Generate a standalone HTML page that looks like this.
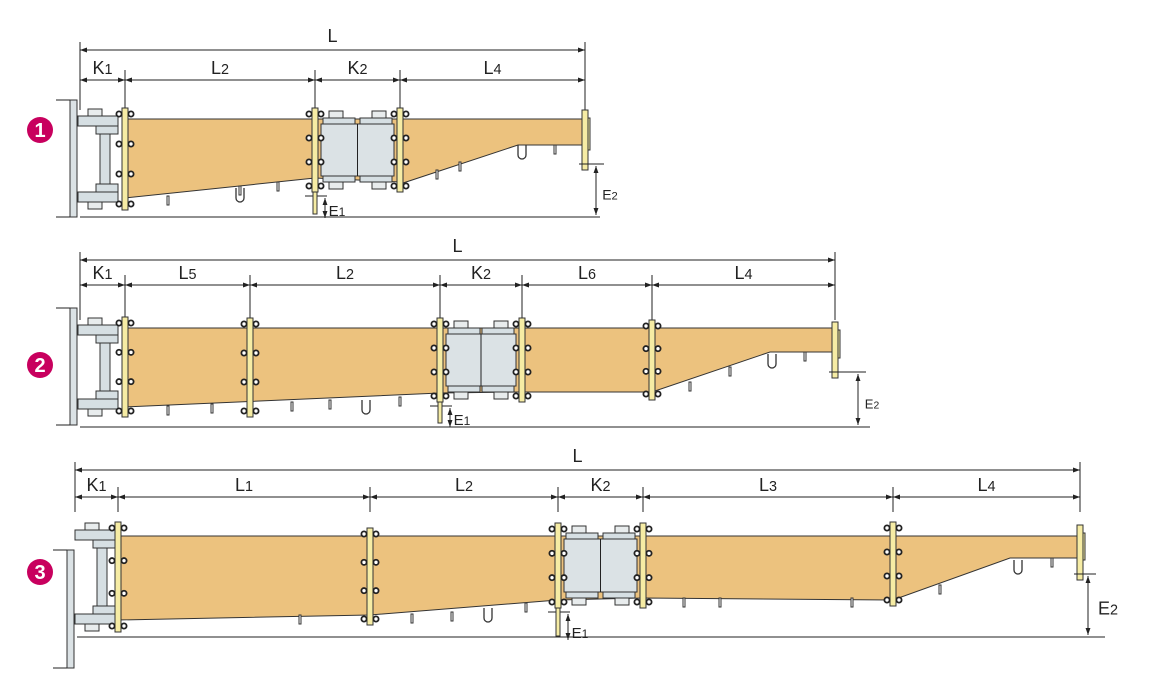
<!DOCTYPE html>
<html><head><meta charset="utf-8"><style>
body{margin:0;background:#fff;width:1150px;height:700px;overflow:hidden}
svg{display:block}
text{font-family:"Liberation Sans",sans-serif;fill:#222}
</style></head><body>
<svg id="s" width="1150" height="700" xmlns="http://www.w3.org/2000/svg">
<defs><marker id="a" viewBox="0 0 10 10" refX="10" refY="5" markerWidth="7" markerHeight="7" orient="auto-start-reverse"><path d="M0,1.5L10,5L0,8.5z" fill="#222"/></marker></defs>
</svg>
<script>
var s=document.getElementById('s');var h='';
function ln(x1,y1,x2,y2,w,c,m){h+='<line x1="'+x1+'" y1="'+y1+'" x2="'+x2+'" y2="'+y2+'" stroke="'+(c||'#222')+'" stroke-width="'+(w||1)+'"'+(m?' marker-start="url(#a)" marker-end="url(#a)"':'')+'/>';}
function rc(x,y,w,hh,f){h+='<rect x="'+x+'" y="'+y+'" width="'+w+'" height="'+hh+'" fill="'+f+'" stroke="#333" stroke-width="1"/>';}
function tx(x,y,t,sz,sub){h+='<text x="'+x+'" y="'+y+'" font-size="'+sz+'" text-anchor="middle">'+t+'<tspan font-size="'+(sz*0.8)+'">'+sub+'</tspan></text>';}
function flange(x,y1,y2){rc(x-3,y1,6,y2-y1,'#f6eca4');var n=4;for(var i=0;i<n;i++){var yy=y1+6+i*(y2-y1-12)/(n-1);h+='<circle cx="'+(x-6)+'" cy="'+yy+'" r="2.6" fill="#fff" stroke="#222" stroke-width="1.8"/><circle cx="'+(x+6)+'" cy="'+yy+'" r="2.6" fill="#fff" stroke="#222" stroke-width="1.8"/>';}}
function row(R){
 var Ly=R.Ly;ln(R.t[0],R.Ly-8,R.t[0],R.top,1);ln(R.t[0],Ly,R.t[R.t.length-1],Ly,1,'#222',1);
 tx((R.t[0]+R.t[R.t.length-1])/2,Ly-8,'L',18,'');
 for(var i=0;i<R.t.length;i++)ln(R.t[i],R.sy-10,R.t[i],R.top+2,1);
 for(var i=0;i<R.t.length-1;i++){ln(R.t[i],R.sy,R.t[i+1],R.sy,1,'#222',1);tx((R.t[i]+R.t[i+1])/2,R.sy-6,R.lb[i][0],18,R.lb[i][1]);}
 ln(R.t[R.t.length-1],Ly-8,R.t[R.t.length-1],R.sy,1);
 ln(R.wx+12,R.by,R.bx,R.by,1);
 h+='<polygon points="'+R.poly+'" fill="#ecc27e" stroke="#333" stroke-width="1"/>';
 R.hg.forEach(function(p){rc(p[0]-1,p[1],2,9,'#fff');});
 R.u.forEach(function(p){h+='<path d="M'+(p[0]-4)+','+p[1]+'v10a4,4 0 0 0 8,0v-10" fill="none" stroke="#333" stroke-width="1.3"/>';});
 var wx=R.wx,bt=R.bt,bb=R.bb;
 rc(wx+2,R.w1,7,R.w2-R.w1,'#dbe2e5');ln(wx-12,R.w1,wx+2,R.w1,1);ln(wx-12,R.w2,wx+2,R.w2,1);
 rc(wx+10,bt+8,40,10,'#d6dfe3');rc(wx+10,bb-18,40,10,'#d6dfe3');
 rc(wx+28,bt+18,22,8,'#d6dfe3');rc(wx+28,bb-26,22,8,'#d6dfe3');rc(wx+32,bt+26,10,bb-bt-52,'#d6dfe3');
 rc(wx+20,bt+1,14,7,'#e8eced');rc(wx+20,bb-8,14,7,'#e8eced');
 flange(R.t[1],bt,bb);
 R.fl.forEach(function(f){flange(f[0],f[1],f[2]);});
 var a=R.tr[0],b=R.tr[1],ty=R.ty,tb=R.tb;
 rc(a+6,ty+12,b-a-12,tb-ty-24,'#dbe2e5');ln((a+b)/2,ty+12,(a+b)/2,tb-12,1);
 rc(a+8,ty+6,32,6,'#d6dfe3');rc(b-40,ty+6,32,6,'#d6dfe3');rc(a+8,tb-12,32,6,'#d6dfe3');rc(b-40,tb-12,32,6,'#d6dfe3');
 rc(a+14,ty-1,14,7,'#e8eced');rc(b-28,ty-1,14,7,'#e8eced');rc(a+14,tb-6,14,7,'#e8eced');rc(b-28,tb-6,14,7,'#e8eced');
 flange(a,ty-4,tb+4);flange(b,ty-4,tb+4);
 ln(a-10,tb+8,a+12,tb+8,1);rc(a-2,tb+4,4,R.e1-(tb+4),'#f6eca4');ln(a+10,tb+10,a+10,R.e1+4,1,'#222',1);
 tx(a+22,R.e1+2,'E',15,'1');
 var ex=R.t[R.t.length-1];rc(ex,R.ey1+8,5,R.ey2-R.ey1-28,'#f6eca4');rc(ex-3,R.ey1,6,R.ey2-R.ey1,'#f6eca4');
 ln(ex-6,R.ey2-6,R.e2x+8,R.ey2-6,1);ln(R.e2x,R.ey2-4,R.e2x,R.by-2,1,'#222',1);
 tx(R.e2x+(R.e2s>14?20:14),(R.ey2+R.by)/2+6,'E',R.e2s,'2');
 h+='<circle cx="'+R.nx+'" cy="'+R.ny+'" r="13" fill="#c8005e"/><text x="'+R.nx+'" y="'+(R.ny+7)+'" font-size="20" font-weight="bold" text-anchor="middle" style="fill:#fff">'+R.n+'</text>';
}
row({n:1,nx:40,ny:130,top:108,Ly:50,sy:80,t:[80,125,315,400,585],lb:[['K','1'],['L','2'],['K','2'],['L','4']],
 by:217,bx:600,poly:'125,119 585,119 585,145 518,145 400,184 400,182 315,178 125,198',
 hg:[[168,196],[240,186],[278,182],[437,170],[460,162],[555,145]],u:[[522,145],[240,188]],
 wx:68,w1:100,w2:217,bt:108,bb:210,fl:[],tr:[315,400],ty:112,tb:188,e1:214,ey1:110,ey2:170,e2x:596,e2s:14});
row({n:2,nx:40,ny:365,top:318,Ly:260,sy:285,t:[80,125,250,440,522,652,835],lb:[['K','1'],['L','5'],['L','2'],['K','2'],['L','6'],['L','4']],
 by:427,bx:870,poly:'125,328 835,328 835,352 770,352 652,392 522,392 440,393 125,407',
 hg:[[168,406],[212,404],[292,402],[330,400],[400,397],[690,382],[730,367],[805,352]],u:[[366,400],[772,354]],
 wx:68,w1:308,w2:425,bt:317,bb:417,fl:[[250,318,417],[652,320,400]],tr:[440,522],ty:322,tb:398,e1:423,ey1:322,ey2:378,e2x:858,e2s:13});
row({n:3,nx:40,ny:572,top:510,Ly:470,sy:497,t:[75,118,370,558,643,893,1080],lb:[['K','1'],['L','1'],['L','2'],['K','2'],['L','3'],['L','4']],
 by:637,bx:1105,poly:'118,536 1080,536 1080,558 1010,558 893,600 643,598 558,600 370,615 118,620',
 hg:[[300,615],[412,614],[452,612],[526,603],[684,598],[720,598],[852,598],[940,585],[1052,558]],u:[[488,608],[1018,560]],
 wx:65,w1:550,w2:668,bt:522,bb:632,fl:[[370,528,625],[893,522,606]],tr:[558,643],ty:527,tb:604,e1:636,ey1:525,ey2:580,e2x:1088,e2s:18});
s.innerHTML+=h;
</script>
</body></html>
